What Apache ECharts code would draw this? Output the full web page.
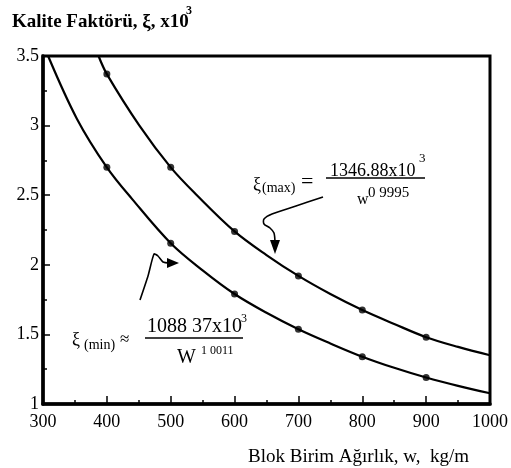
<!DOCTYPE html>
<html>
<head>
<meta charset="utf-8">
<script src="https://cdn.jsdelivr.net/npm/echarts@6/dist/echarts.min.js"></script>
<style>
  html, body { margin: 0; padding: 0; background: #fff; }
  #chart { width: 511px; height: 468px; }
</style>
</head>
<body>
<div id="chart"></div>
<script>
// Block unit weight (kg/m) at the measured points
const wMarks = [400, 500, 600, 700, 800, 900];
// Quality factor (x10^3) at those points
const xiMaxMarks = [3.37, 2.70, 2.24, 1.92, 1.675, 1.48];
const xiMinMarks = [2.70, 2.155, 1.79, 1.537, 1.34, 1.19];

// Traced points along each fitted curve
const maxCurveW  = [387, 400, 451, 500, 541, 600, 650, 700, 750, 800, 850, 900, 950, 1000];
const maxCurveXi = [3.5, 3.37, 3.0, 2.70, 2.5, 2.24, 2.07, 1.92, 1.79, 1.675, 1.575, 1.48, 1.41, 1.35];
const minCurveW  = [308, 353, 400, 440, 500, 550, 600, 650, 700, 750, 800, 850, 900, 950, 1000];
const minCurveXi = [3.5, 3.05, 2.70, 2.47, 2.155, 1.96, 1.79, 1.655, 1.537, 1.435, 1.34, 1.26, 1.19, 1.13, 1.077];

// Axis tick labels
const xTicks = [300, 400, 500, 600, 700, 800, 900, 1000];
const yTicks = ['1', '1.5', '2', '2.5', '3', '3.5'];

const zip = (a, b) => a.map((v, i) => [v, b[i]]);
const serif = '"Liberation Serif", "DejaVu Serif", serif';

const chart = echarts.init(document.getElementById('chart'));

function txt(x, y, text, size, weight) {
  return {
    type: 'text', x: x, y: y, z: 10,
    style: {
      text: text, fontSize: size, fontFamily: serif, fontWeight: weight || 'normal',
      fill: '#000', verticalAlign: 'middle', align: 'left'
    }
  };
}

const option = {
  animation: false,
  backgroundColor: '#fff',
  grid: {
    left: 43, right: 20, top: 56, bottom: 64,
    show: true, borderColor: '#000', borderWidth: 3, backgroundColor: 'transparent'
  },
  xAxis: {
    type: 'value', min: 300, max: 1000, interval: 100,
    axisLine: { lineStyle: { color: '#000', width: 3.5 } },
    axisTick: { inside: true, length: 8, lineStyle: { color: '#000', width: 1.5 } },
    minorTick: { show: true, splitNumber: 2, length: 4, lineStyle: { color: '#000', width: 1.5 } },
    splitLine: { show: false },
    axisLabel: {
      margin: 9, color: '#000', fontFamily: serif, fontSize: 18,
      formatter: v => xTicks.includes(v) ? String(v) : ''
    },
    name: 'Blok Birim Ağırlık, w,  kg/m',
    nameLocation: 'end',
    nameGap: 0,
    nameTextStyle: {
      color: '#000', fontFamily: serif, fontSize: 19,
      align: 'right', verticalAlign: 'top', padding: [44, 21, 0, 0]
    }
  },
  yAxis: {
    type: 'value', min: 1, max: 3.5, interval: 0.5,
    axisLine: { show: true, lineStyle: { color: '#000', width: 3.5 } },
    axisTick: { inside: true, length: 7, lineStyle: { color: '#000', width: 1.5 } },
    minorTick: { show: true, splitNumber: 2, length: 4, lineStyle: { color: '#000', width: 1.5 } },
    splitLine: { show: false },
    axisLabel: {
      margin: 4, color: '#000', fontFamily: serif, fontSize: 18,
      formatter: v => yTicks[Math.round((v - 1) / 0.5)]
    }
  },
  series: [
    {
      type: 'line', data: zip(maxCurveW, maxCurveXi), smooth: 0.35,
      showSymbol: false, lineStyle: { color: '#000', width: 2.2 }, z: 3
    },
    {
      type: 'line', data: zip(minCurveW, minCurveXi), smooth: 0.35,
      showSymbol: false, lineStyle: { color: '#000', width: 2.2 }, z: 3
    },
    {
      type: 'scatter', data: zip(wMarks, xiMaxMarks), symbol: 'circle', symbolSize: 7,
      itemStyle: { color: '#000' }, z: 4
    },
    {
      type: 'scatter', data: zip(wMarks, xiMinMarks), symbol: 'circle', symbolSize: 7,
      itemStyle: { color: '#000' }, z: 4
    }
  ],
  graphic: [
    // Title of the vertical axis
    txt(12, 22, 'Kalite Faktörü, ξ, x10', 19, 'bold'),
    txt(186, 11, '3', 12, 'bold'),

    // ξ(max) fit
    txt(253, 185, 'ξ', 18),
    txt(262, 188, '(max)', 14),
    txt(301, 182, '=', 22),
    txt(330, 171, '1346.88x10', 18),
    txt(419, 159, '3', 13),
    { type: 'line', z: 10, shape: { x1: 326, y1: 178, x2: 425, y2: 178 }, style: { stroke: '#000', lineWidth: 1.4 } },
    txt(357, 200, 'w', 16),
    txt(368, 193, '0 9995', 15),
    {
      type: 'polyline', z: 10,
      shape: { points: [[323, 197], [296, 206], [272, 214], [264, 219], [264, 224], [270, 228], [274, 233], [275, 244]], smooth: 0.3 },
      style: { stroke: '#000', lineWidth: 1.6, fill: null }
    },
    { type: 'polygon', z: 10, shape: { points: [[270, 240], [280, 240], [275, 254]] }, style: { fill: '#000' } },

    // ξ(min) fit
    txt(72, 340, 'ξ', 18),
    txt(84, 345, '(min)', 14),
    txt(120, 340, '≈', 17),
    txt(147, 327, '1088 37x10', 20),
    txt(241, 319, '3', 12),
    { type: 'line', z: 10, shape: { x1: 145, y1: 338, x2: 243, y2: 338 }, style: { stroke: '#000', lineWidth: 1.4 } },
    txt(177, 358, 'W', 20),
    txt(201, 351, '1 0011', 12),
    {
      type: 'polyline', z: 10,
      shape: { points: [[140, 300], [148, 276], [154, 254], [158, 256], [163, 262], [170, 263]], smooth: 0.2 },
      style: { stroke: '#000', lineWidth: 1.6, fill: null }
    },
    { type: 'polygon', z: 10, shape: { points: [[167, 258], [167, 268], [179, 263]] }, style: { fill: '#000' } }
  ]
};

chart.setOption(option);
</script>
</body>
</html>
